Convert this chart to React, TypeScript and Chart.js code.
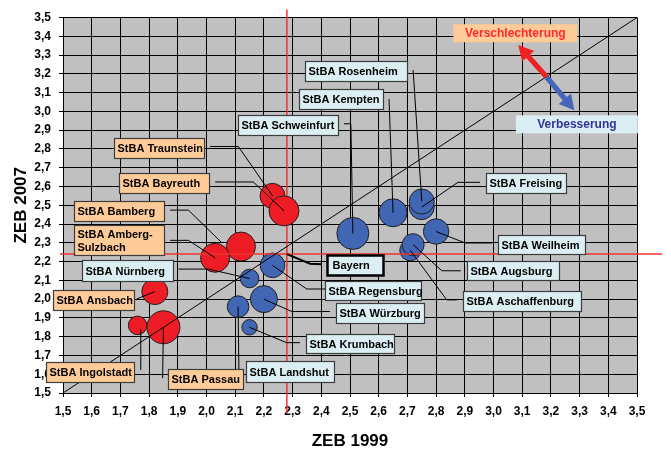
import React, { useEffect, useRef } from 'react';
import { Chart, registerables } from 'chart.js';

Chart.register(...registerables);

// ---------- data ----------
const TICK_VALUES = [1.5, 1.6, 1.7, 1.8, 1.9, 2.0, 2.1, 2.2, 2.3, 2.4, 2.5, 2.6, 2.7, 2.8, 2.9, 3.0, 3.1, 3.2, 3.3, 3.4, 3.5];
const AXIS_MIN = 1.5;
const AXIS_MAX = 3.5;

const redNames = ['StBA Traunstein', 'StBA Bayreuth', 'StBA Bamberg', 'StBA Amberg-Sulzbach', 'StBA Ansbach', 'StBA Ingolstadt', 'StBA Passau'];
const redX = [2.23, 2.27, 2.12, 2.03, 1.82, 1.76, 1.85];
const redY = [2.55, 2.47, 2.28, 2.22, 2.04, 1.86, 1.85];
const redSize = [12.5, 15, 14.5, 14.5, 13, 9.3, 16.5];

const blueNames = ['StBA Nürnberg', 'StBA Regensburg', 'StBA Würzburg', 'StBA Landshut', 'StBA Krumbach', 'StBA Schweinfurt', 'StBA Kempten', 'StBA Freising', 'StBA Rosenheim', 'StBA Weilheim', 'StBA Aschaffenburg', 'StBA Augsburg'];
const blueX = [2.15, 2.23, 2.20, 2.11, 2.15, 2.51, 2.65, 2.75, 2.75, 2.80, 2.71, 2.72];
const blueY = [2.11, 2.18, 2.00, 1.96, 1.85, 2.35, 2.46, 2.49, 2.52, 2.36, 2.26, 2.29];
const blueSize = [9.3, 12.3, 13.5, 10.8, 7.7, 16, 14, 12.5, 12.5, 12.7, 10.5, 11];

const bayernName = 'Bayern';
const bayernX = 2.28;
const bayernY = 2.24;

const X_TITLE = 'ZEB 1999';
const Y_TITLE = 'ZEB 2007';
const WORSE_TEXT = 'Verschlechterung';
const BETTER_TEXT = 'Verbesserung';

// ---------- annotation layout (data units for anchors, px for box sizes) ----------
type Callout = {
  name: string;
  lines?: string[];
  bx: number; // box left (x value)
  by: number; // box centre (y value)
  w: number;
  h: number;
  path: [number, number][];
  end?: [number, number];
};

const CALLOUTS: Callout[] = [
  { name: 'StBA Traunstein', bx: 1.679, by: 2.807, w: 90, h: 20, path: [[2.012, 2.813], [2.111, 2.813]] },
  { name: 'StBA Bayreuth', bx: 1.696, by: 2.618, w: 90, h: 20, path: [[2.030, 2.624], [2.163, 2.624]] },
  { name: 'StBA Bamberg', bx: 1.538, by: 2.472, w: 90, h: 20, path: [[1.873, 2.474], [1.937, 2.474]], end: [2.053, 2.301] },
  { name: 'StBA Amberg-Sulzbach', lines: ['StBA Amberg-', 'Sulzbach'], bx: 1.538, by: 2.315, w: 90, h: 30, path: [[1.873, 2.313], [1.937, 2.313]] },
  { name: 'StBA Nürnberg', bx: 1.565, by: 2.151, w: 91, h: 21, path: [[1.902, 2.160], [2.006, 2.160]] },
  { name: 'StBA Ansbach', bx: 1.464, by: 1.994, w: 81, h: 20, path: [[1.757, 2.001]] },
  { name: 'StBA Ingolstadt', bx: 1.441, by: 1.613, w: 88, h: 20, path: [[1.771, 1.622]], end: [1.771, 1.84] },
  { name: 'StBA Passau', bx: 1.867, by: 1.574, w: 75, h: 20, path: [[1.847, 1.579]] },
  { name: 'StBA Landshut', bx: 2.137, by: 1.615, w: 88, h: 21, path: [[2.113, 1.615]] },
  { name: 'StBA Krumbach', bx: 2.347, by: 1.762, w: 88, h: 19, path: [[2.326, 1.768], [2.279, 1.768]] },
  { name: 'StBA Würzburg', bx: 2.451, by: 1.925, w: 88, h: 20, path: [[2.430, 1.934], [2.297, 1.934]] },
  { name: 'StBA Regensburg', bx: 2.413, by: 2.048, w: 96, h: 19, path: [[2.413, 2.054], [2.349, 2.054]] },
  { name: 'Bayern', bx: 2.420, by: 2.183, w: 56, h: 20, path: [[2.401, 2.186], [2.361, 2.189]] },
  { name: 'StBA Aschaffenburg', bx: 2.893, by: 1.992, w: 118, h: 20, path: [[2.872, 1.996], [2.837, 1.996]] },
  { name: 'StBA Augsburg', bx: 2.907, by: 2.153, w: 92, h: 19, path: [[2.886, 2.151], [2.820, 2.151]] },
  { name: 'StBA Weilheim', bx: 3.015, by: 2.290, w: 87, h: 19, path: [[2.995, 2.299], [2.901, 2.299]] },
  { name: 'StBA Freising', bx: 2.973, by: 2.618, w: 80, h: 20, path: [[2.953, 2.622], [2.876, 2.622]] },
  { name: 'StBA Schweinfurt', bx: 2.110, by: 2.929, w: 100, h: 20, path: [[2.479, 2.934], [2.503, 2.934]] },
  { name: 'StBA Kempten', bx: 2.322, by: 3.066, w: 84, h: 20, path: [[2.636, 3.066]] },
  { name: 'StBA Rosenheim', bx: 2.343, by: 3.214, w: 102, h: 20, path: [[2.720, 3.220]] },
];

// arrow (value space) and note boxes
const ARROW_WORSE_TIP: [number, number] = [3.086, 3.353];
const ARROW_MID: [number, number] = [3.185, 3.183];
const ARROW_BETTER_TIP: [number, number] = [3.282, 3.006];
const WORSE_BOX = { bx: 2.860, by: 3.416, w: 124, h: 18 };
const BETTER_BOX = { bx: 3.078, by: 2.931, w: 122, h: 18 };
// crosshair extents beyond the axes (value space)
const CROSS_Y_RANGE: [number, number] = [1.394, 3.542];
const CROSS_X_RANGE: [number, number] = [1.49, 3.587];

const FONT = "'Liberation Sans', Arial, Helvetica, sans-serif";
const RED = '#EE1C25';
const BLUE = '#4166B4';
const PEACH = '#FFCC99';
const LIGHTBLUE = '#DBEEF4';
const CROSS = '#EE3333';

const fmt = (v: number) => Number(v).toFixed(1).replace('.', ',');

function lookup(name: string): [number, number] {
  let i = redNames.indexOf(name);
  if (i >= 0) return [redX[i], redY[i]];
  i = blueNames.indexOf(name);
  if (i >= 0) return [blueX[i], blueY[i]];
  return [bayernX, bayernY];
}

function drawArrow(ctx: CanvasRenderingContext2D, x0: number, y0: number, x1: number, y1: number, color: string) {
  const ang = Math.atan2(y1 - y0, x1 - x0);
  const len = Math.hypot(x1 - x0, y1 - y0);
  const shaft = 2.6;
  const headL = 15;
  const headW = 8;
  ctx.save();
  ctx.translate(x0, y0);
  ctx.rotate(ang);
  ctx.fillStyle = color;
  ctx.beginPath();
  ctx.moveTo(0, -shaft);
  ctx.lineTo(len - headL, -shaft);
  ctx.lineTo(len - headL, -headW);
  ctx.lineTo(len, 0);
  ctx.lineTo(len - headL, headW);
  ctx.lineTo(len - headL, shaft);
  ctx.lineTo(0, shaft);
  ctx.closePath();
  ctx.fill();
  ctx.restore();
}

const backgroundPlugin = {
  id: 'plotBg',
  beforeDraw(chart: any) {
    const { ctx, chartArea } = chart;
    ctx.save();
    ctx.fillStyle = '#ffffff';
    ctx.fillRect(0, 0, chart.width, chart.height);
    ctx.fillStyle = '#C0C0C0';
    ctx.fillRect(chartArea.left, chartArea.top, chartArea.right - chartArea.left, chartArea.bottom - chartArea.top);
    ctx.restore();
  },
  beforeDatasetsDraw(chart: any) {
    const { ctx, scales } = chart;
    const x = scales.x, y = scales.y;
    ctx.save();
    ctx.strokeStyle = CROSS;
    ctx.lineWidth = 1.5;
    ctx.beginPath();
    ctx.moveTo(x.getPixelForValue(bayernX), y.getPixelForValue(CROSS_Y_RANGE[1]));
    ctx.lineTo(x.getPixelForValue(bayernX), y.getPixelForValue(CROSS_Y_RANGE[0]));
    ctx.stroke();
    ctx.restore();
  },
  afterDatasetsDraw(chart: any) {
    const { ctx, scales } = chart;
    const xs = scales.x, ys = scales.y;
    const px = (v: number) => xs.getPixelForValue(v);
    const py = (v: number) => ys.getPixelForValue(v);
    ctx.save();
    // horizontal crosshair
    ctx.strokeStyle = CROSS;
    ctx.lineWidth = 1.5;
    ctx.beginPath();
    ctx.moveTo(px(CROSS_X_RANGE[0]), py(bayernY));
    ctx.lineTo(px(CROSS_X_RANGE[1]), py(bayernY));
    ctx.stroke();
    // diagonal
    ctx.strokeStyle = '#000';
    ctx.lineWidth = 1;
    ctx.beginPath();
    ctx.moveTo(px(AXIS_MIN), py(AXIS_MIN));
    ctx.lineTo(px(AXIS_MAX), py(AXIS_MAX));
    ctx.stroke();
    // leaders
    for (const c of CALLOUTS) {
      const end = c.end ?? lookup(c.name);
      const pts = [...c.path, end];
      const bold = c.name === bayernName;
      ctx.strokeStyle = '#000';
      ctx.lineWidth = bold ? 2 : 1;
      ctx.beginPath();
      ctx.moveTo(px(pts[0][0]), py(pts[0][1]));
      for (let i = 1; i < pts.length; i++) ctx.lineTo(px(pts[i][0]), py(pts[i][1]));
      ctx.stroke();
    }
    // boxes
    ctx.font = `bold 11px ${FONT}`;
    ctx.textBaseline = 'middle';
    ctx.textAlign = 'left';
    for (const c of CALLOUTS) {
      const bold = c.name === bayernName;
      const isRed = redNames.indexOf(c.name) >= 0;
      const left = Math.round(px(c.bx)) + 0.5;
      const top = Math.round(py(c.by) - c.h / 2) + 0.5;
      ctx.fillStyle = isRed ? PEACH : LIGHTBLUE;
      ctx.fillRect(left, top, c.w, c.h);
      ctx.strokeStyle = bold ? '#000' : '#3c3c3c';
      ctx.lineWidth = bold ? 2.5 : 1.2;
      ctx.strokeRect(left, top, c.w, c.h);
      ctx.fillStyle = '#000';
      const lines = c.lines ?? [c.name];
      const lh = 13;
      const cy = top + c.h / 2;
      lines.forEach((t, i) => {
        ctx.fillText(t, left + (bold ? 5 : 3), cy + (i - (lines.length - 1) / 2) * lh + 0.5);
      });
    }
    // notes
    ctx.font = `bold 12px ${FONT}`;
    ctx.textAlign = 'center';
    {
      const l = px(WORSE_BOX.bx), t = py(WORSE_BOX.by) - WORSE_BOX.h / 2;
      ctx.fillStyle = PEACH;
      ctx.fillRect(l, t, WORSE_BOX.w, WORSE_BOX.h);
      ctx.fillStyle = '#FF2A2A';
      ctx.fillText(WORSE_TEXT, l + WORSE_BOX.w / 2, t + WORSE_BOX.h / 2 + 0.5);
    }
    {
      const l = px(BETTER_BOX.bx), t = py(BETTER_BOX.by) - BETTER_BOX.h / 2;
      ctx.fillStyle = LIGHTBLUE;
      ctx.fillRect(l, t, BETTER_BOX.w, BETTER_BOX.h);
      ctx.fillStyle = '#333399';
      ctx.fillText(BETTER_TEXT, l + BETTER_BOX.w / 2, t + BETTER_BOX.h / 2 + 0.5);
    }
    // double arrow
    drawArrow(ctx, px(ARROW_MID[0]), py(ARROW_MID[1]), px(ARROW_WORSE_TIP[0]), py(ARROW_WORSE_TIP[1]), '#EE2222');
    drawArrow(ctx, px(ARROW_MID[0]), py(ARROW_MID[1]), px(ARROW_BETTER_TIP[0]), py(ARROW_BETTER_TIP[1]), '#4466BB');
    ctx.restore();
  },
};

const tickFont = { family: FONT, size: 12, weight: 'bold' as const };
const titleFont = { family: FONT, size: 17, weight: 'bold' as const };

export default function App() {
  const ref = useRef<HTMLCanvasElement | null>(null);
  useEffect(() => {
    if (!ref.current) return;
    const chart = new Chart(ref.current, {
      type: 'bubble',
      data: {
        datasets: [
          {
            label: 'rot',
            data: redNames.map((_, i) => ({ x: redX[i], y: redY[i], r: redSize[i] })),
            backgroundColor: RED,
            borderColor: '#222',
            borderWidth: 1,
          },
          {
            label: 'blau',
            data: blueNames.map((_, i) => ({ x: blueX[i], y: blueY[i], r: blueSize[i] })),
            backgroundColor: BLUE,
            borderColor: '#222',
            borderWidth: 1,
          },
        ],
      },
      options: {
        animation: false,
        responsive: true,
        maintainAspectRatio: false,
        layout: { padding: { top: 15, right: 34, bottom: 0, left: 0 } },
        plugins: { legend: { display: false }, tooltip: { enabled: false } },
        events: [],
        scales: {
          x: {
            type: 'linear',
            min: AXIS_MIN,
            max: AXIS_MAX,
            afterBuildTicks: (s: any) => { s.ticks = TICK_VALUES.map((v) => ({ value: v })); },
            afterFit: (s: any) => { s.height = 59; },
            ticks: { callback: (v: any) => fmt(v), font: tickFont, color: '#000', padding: 7, maxRotation: 0, autoSkip: false },
            grid: { color: '#000', lineWidth: 1, tickLength: 4, drawTicks: true },
            border: { color: '#000', width: 1 },
            title: { display: true, text: X_TITLE, font: titleFont, color: '#000', padding: { top: 0, bottom: 0 } },
          },
          y: {
            type: 'linear',
            min: AXIS_MIN,
            max: AXIS_MAX,
            afterBuildTicks: (s: any) => { s.ticks = TICK_VALUES.map((v) => ({ value: v })); },
            afterFit: (s: any) => { s.width = 63; },
            ticks: { callback: (v: any) => fmt(v), font: tickFont, color: '#000', padding: 8, autoSkip: false },
            grid: { color: '#000', lineWidth: 1, tickLength: 4, drawTicks: true },
            border: { color: '#000', width: 1 },
            title: { display: true, text: Y_TITLE, font: titleFont, color: '#000', padding: { top: 11, bottom: 0 } },
          },
        },
      },
      plugins: [backgroundPlugin],
    } as any);
    return () => chart.destroy();
  }, []);
  return (
    <div style={{ position: 'absolute', left: 0, top: 0, width: 671, height: 452, background: '#fff' }}>
      <canvas ref={ref} />
    </div>
  );
}
